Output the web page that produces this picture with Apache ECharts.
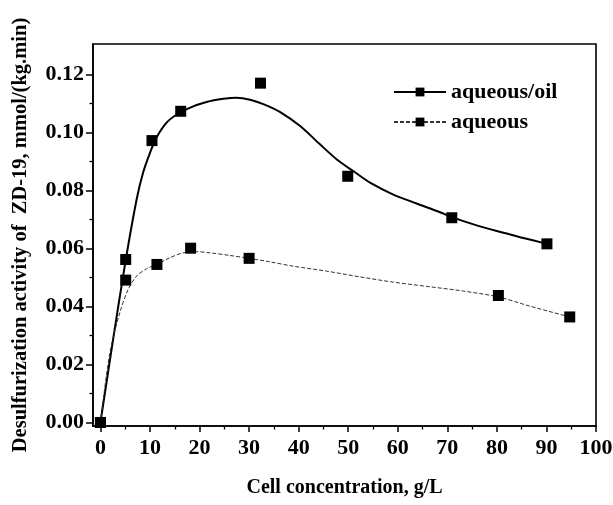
<!DOCTYPE html>
<html>
<head>
<meta charset="utf-8">
<script src="https://cdn.jsdelivr.net/npm/echarts@6/dist/echarts.min.js"></script>
<style>html,body{margin:0;padding:0;background:#fff}#c{width:613px;height:505px}</style>
</head>
<body>
<div id="c"></div>
<script>
// Measured points
const oilX = [0, 5.1, 10.4, 16.2, 32.3, 49.9, 70.9, 90.1];
const oilY = [0, 0.0562, 0.0972, 0.1073, 0.1170, 0.0849, 0.0706, 0.0616];
const aqX = [0, 5.1, 11.4, 18.2, 30.0, 80.3, 94.7];
const aqY = [0, 0.0491, 0.0545, 0.0601, 0.0566, 0.0438, 0.0364];
// Fitted curves
const oilCurveX = [0, 2.55, 5.1, 7.3, 8.6, 10.0, 11.3, 13.3, 15.4, 18.0, 21.4, 24.8, 27.5, 30.2, 33.0, 36.2, 40.3, 44.3, 47.7, 51.0, 54.4, 59.1, 63.8, 68.5, 70.9, 75.3, 80.0, 84.7, 90.1];
const oilCurveY = [0, 0.0286, 0.0560, 0.0769, 0.0861, 0.0930, 0.0982, 0.1033, 0.1062, 0.1085, 0.1105, 0.1116, 0.1120, 0.1113, 0.1097, 0.1071, 0.1022, 0.0959, 0.0907, 0.0867, 0.0827, 0.0786, 0.0755, 0.0725, 0.0708, 0.0683, 0.0660, 0.0639, 0.0616];
const aqCurveX = [0, 1.9, 3.9, 5.6, 7.3, 9.3, 11.4, 14.0, 16.7, 19.4, 22.1, 26.1, 30.0, 34.2, 38.9, 45.6, 52.4, 59.1, 66.5, 73.3, 80.3, 86.7, 94.7];
const aqCurveY = [0, 0.0240, 0.0378, 0.0459, 0.0505, 0.0530, 0.0545, 0.0568, 0.0585, 0.0589, 0.0585, 0.0576, 0.0566, 0.0554, 0.0539, 0.0522, 0.0502, 0.0484, 0.0468, 0.0453, 0.0433, 0.0401, 0.0364];
const xTicks = [0, 10, 20, 30, 40, 50, 60, 70, 80, 90, 100];
const xMinor = [5, 15, 25, 35, 45, 55, 65, 75, 85, 95];
const yTicks = [0, 0.02, 0.04, 0.06, 0.08, 0.10, 0.12];
const yMinor = [0.01, 0.03, 0.05, 0.07, 0.09, 0.11];
const xTitle = 'Cell concentration, g/L';
const yTitle = 'Desulfurization activity of  ZD-19, mmol/(kg.min)';
const names = ['aqueous/oil', 'aqueous'];

const zip = (a, b) => a.map((v, i) => [v, b[i]]);
const font = 'Liberation Serif';
const XMIN = -1.5, XMAX = 100, YMIN = -0.0012, YMAX = 0.1305;

const chart = echarts.init(document.getElementById('c'), null, {renderer: 'canvas'});
chart.setOption({
  animation: false,
  backgroundColor: '#fff',
  grid: {left: 93, right: 17, top: 44, bottom: 79, show: true, borderColor: '#000', borderWidth: 1.6, outerBoundsMode: 'none'},
  legend: [
    {data: [names[0]], left: 388, top: 76, itemWidth: 52, itemHeight: 11, itemGap: 0,
     textStyle: {fontFamily: font, fontSize: 22, fontWeight: 'bold', color: '#000'}},
    {data: [names[1]], left: 388, top: 106, itemWidth: 52, itemHeight: 11, itemGap: 0,
     textStyle: {fontFamily: font, fontSize: 22, fontWeight: 'bold', color: '#000'}}
  ],
  xAxis: [
    {type: 'value', min: XMIN, max: XMAX, position: 'bottom',
     name: xTitle, nameLocation: 'middle', nameGap: 52,
     nameTextStyle: {fontFamily: font, fontSize: 20, fontWeight: 'bold', color: '#000'},
     axisLine: {onZero: false, lineStyle: {color: '#000', width: 1.6}},
     axisTick: {customValues: xTicks, length: 6, lineStyle: {color: '#000', width: 1.5}},
     axisLabel: {customValues: xTicks, margin: 11, fontFamily: font, fontSize: 22, fontWeight: 'bold', color: '#000'},
     splitLine: {show: false}},
    {type: 'value', min: XMIN, max: XMAX, position: 'bottom',
     axisLine: {show: false, onZero: false},
     axisTick: {customValues: xMinor, length: 3.5, lineStyle: {color: '#000', width: 1.3}},
     axisLabel: {show: false}, splitLine: {show: false}}
  ],
  yAxis: [
    {type: 'value', min: YMIN, max: YMAX, position: 'left',
     name: yTitle, nameLocation: 'middle', nameGap: 62,
     nameTextStyle: {fontFamily: font, fontSize: 20.5, fontWeight: 'bold', color: '#000'},
     axisLine: {onZero: false, lineStyle: {color: '#000', width: 1.6}},
     axisTick: {customValues: yTicks, length: 7, lineStyle: {color: '#000', width: 1.5}},
     axisLabel: {customValues: yTicks, margin: 9, fontFamily: font, fontSize: 22, fontWeight: 'bold', color: '#000',
                 formatter: v => v.toFixed(2)},
     splitLine: {show: false}},
    {type: 'value', min: YMIN, max: YMAX, position: 'left',
     axisLine: {show: false, onZero: false},
     axisTick: {customValues: yMinor, length: 3.5, lineStyle: {color: '#000', width: 1.3}},
     axisLabel: {show: false}, splitLine: {show: false}}
  ],
  series: [
    {name: names[0], type: 'line', data: zip(oilCurveX, oilCurveY), smooth: 0.3,
     symbol: 'rect', symbolSize: 11, showSymbol: false,
     itemStyle: {color: '#000', opacity: 1}, lineStyle: {color: '#000', width: 2}, z: 3},
    {name: names[1], type: 'line', data: zip(aqCurveX, aqCurveY), smooth: 0.3,
     symbol: 'rect', symbolSize: 11, showSymbol: false,
     itemStyle: {color: '#000', opacity: 1}, lineStyle: {color: '#333', width: 1, type: [4, 2]}, z: 3},
    {name: 'oilPts', type: 'scatter', data: zip(oilX, oilY), symbol: 'rect', symbolSize: 11,
     itemStyle: {color: '#000', opacity: 1}, z: 4},
    {name: 'aqPts', type: 'scatter', data: zip(aqX, aqY), symbol: 'rect', symbolSize: 11,
     itemStyle: {color: '#000', opacity: 1}, z: 4}
  ]
});
</script>
</body>
</html>
